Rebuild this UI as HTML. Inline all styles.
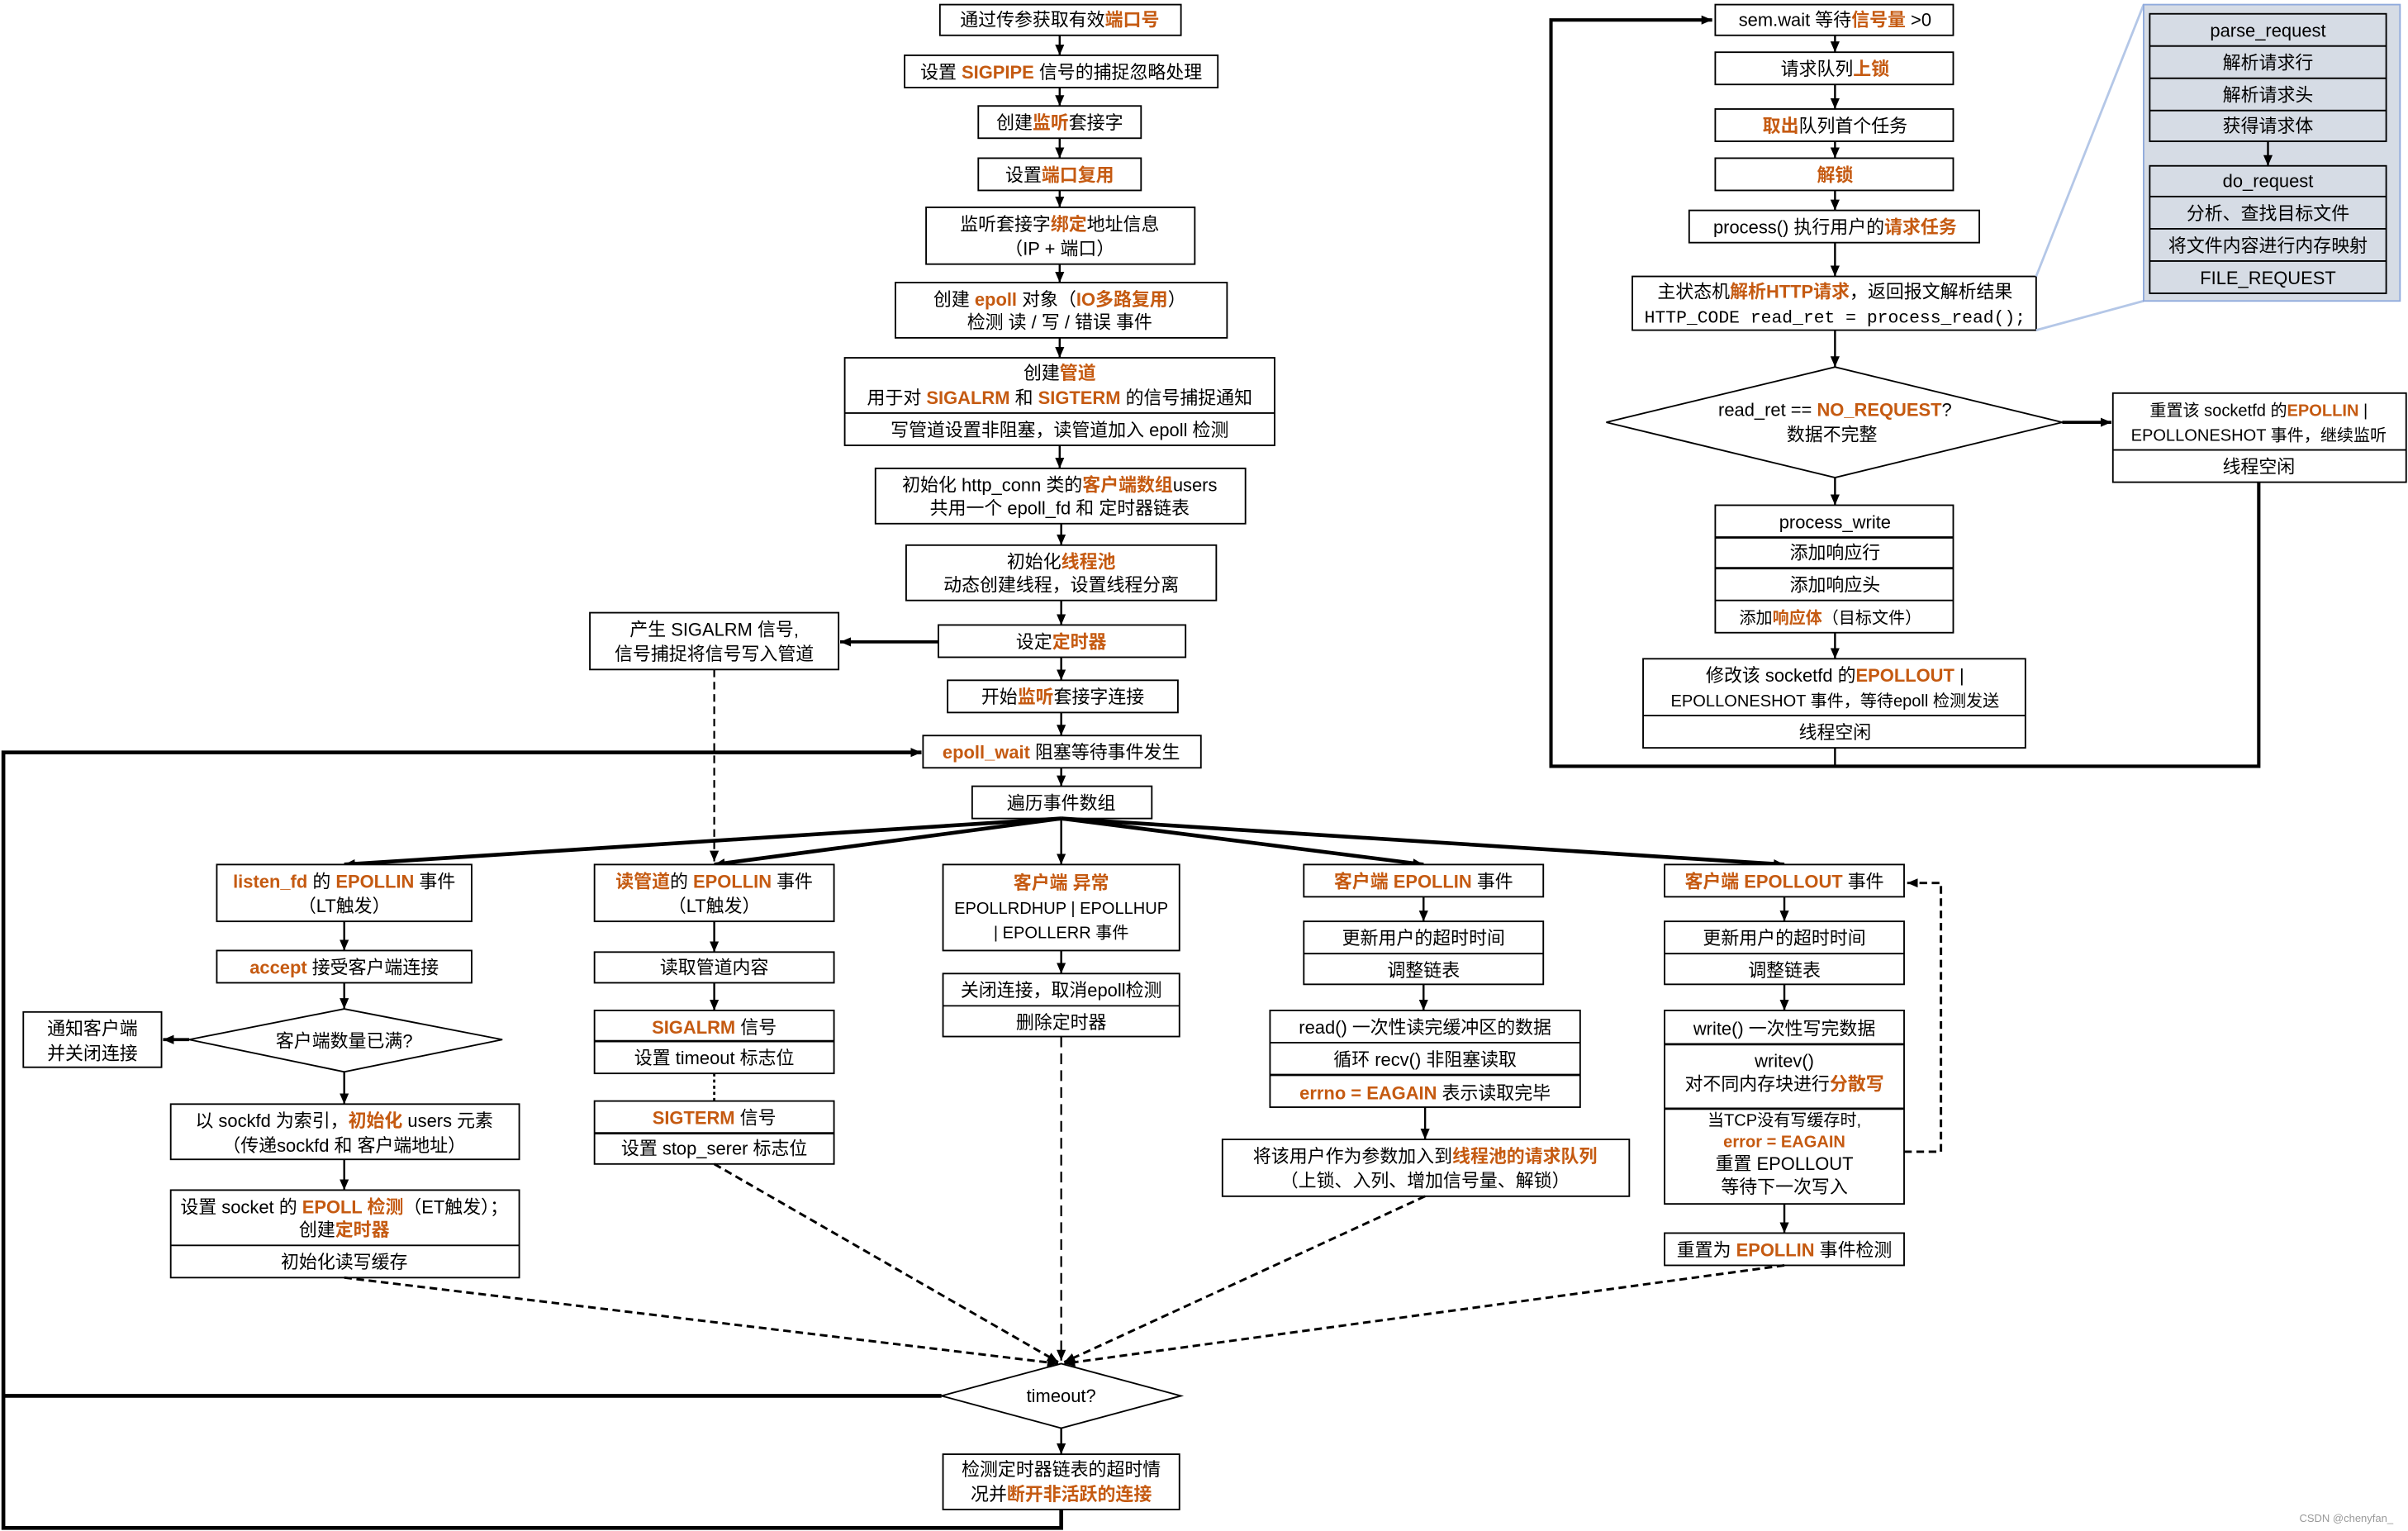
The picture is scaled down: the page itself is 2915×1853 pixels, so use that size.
<!DOCTYPE html>
<html><head><meta charset="utf-8"><style>
html,body{margin:0;padding:0;background:#fff;}
svg{display:block;}
text{font-family:"Liberation Sans","Noto Sans CJK SC",sans-serif;font-size:11.8px;fill:#000;text-anchor:middle;}
.o{fill:#c55a11;font-weight:bold;}
.s{font-size:10.8px;}
.m{font-family:"Liberation Mono","Noto Sans CJK SC",monospace;}
rect{fill:#fff;stroke:#000;stroke-width:1;}
.b rect{fill:#d6dce5;}
line,polyline,path{stroke:#000;fill:none;}
.d{stroke-dasharray:5,3;stroke-width:1.6;}
</style></head><body>
<svg width="2915" height="1853" viewBox="0 0 1568 997" xmlns="http://www.w3.org/2000/svg">
<defs><marker id="a" markerWidth="8" markerHeight="8" refX="7" refY="4" orient="auto" markerUnits="userSpaceOnUse"><path d="M0,1 L7,4 L0,7 z" style="fill:#000;stroke:none"/></marker></defs>

<g>
<rect x="612" y="3" width="157" height="20"/><text x="690" y="17">通过传参获取有效<tspan class="o">端口号</tspan></text>
<rect x="589" y="36" width="204" height="21"/><text x="691" y="51">设置 <tspan class="o">SIGPIPE</tspan> 信号的捕捉忽略处理</text>
<rect x="637" y="69" width="106" height="21"/><text x="690" y="84">创建<tspan class="o">监听</tspan>套接字</text>
<rect x="637" y="103" width="106" height="21"/><text x="690" y="118">设置<tspan class="o">端口复用</tspan></text>
<rect x="603" y="135" width="175" height="37"/><text x="690" y="150">监听套接字<tspan class="o">绑定</tspan>地址信息</text><text x="690" y="166">（IP + 端口）</text>
<rect x="583" y="184" width="216" height="36"/><text x="690" y="199">创建 <tspan class="o">epoll</tspan> 对象（<tspan class="o">IO多路复用</tspan>）</text><text x="690" y="214">检测 读 / 写 / 错误 事件</text>
<rect x="550" y="233" width="280" height="57"/><line x1="550" y1="269" x2="830" y2="269"/>
<text x="690" y="247">创建<tspan class="o">管道</tspan></text><text x="690" y="263">用于对 <tspan class="o">SIGALRM</tspan> 和 <tspan class="o">SIGTERM</tspan> 的信号捕捉通知</text><text x="690" y="284">写管道设置非阻塞，读管道加入 epoll 检测</text>
<rect x="570" y="305" width="241" height="36"/><text x="690" y="320">初始化 http_conn 类的<tspan class="o">客户端数组</tspan>users</text><text x="690" y="335">共用一个 epoll_fd 和 定时器链表</text>
<rect x="590" y="355" width="202" height="36"/><text x="691" y="370">初始化<tspan class="o">线程池</tspan></text><text x="691" y="385">动态创建线程，设置线程分离</text>
<rect x="611" y="407" width="161" height="21"/><text x="691" y="422">设定<tspan class="o">定时器</tspan></text>
<rect x="384" y="399" width="162" height="37"/><text x="465" y="414">产生 SIGALRM 信号,</text><text x="465" y="430">信号捕捉将信号写入管道</text>
<rect x="617" y="443" width="150" height="21"/><text x="692" y="458">开始<tspan class="o">监听</tspan>套接字连接</text>
<rect x="601" y="479" width="181" height="21"/><text x="691" y="494"><tspan class="o">epoll_wait</tspan> 阻塞等待事件发生</text>
<rect x="633" y="512" width="117" height="21"/><text x="691" y="527">遍历事件数组</text>
</g>
<g marker-end="url(#a)" stroke-width="1.3">
<line x1="690" y1="23" x2="690" y2="36"/><line x1="690" y1="57" x2="690" y2="69"/><line x1="690" y1="90" x2="690" y2="103"/>
<line x1="690" y1="124" x2="690" y2="135"/><line x1="690" y1="172" x2="690" y2="184"/><line x1="690" y1="220" x2="690" y2="233"/>
<line x1="690" y1="290" x2="690" y2="305"/><line x1="691" y1="341" x2="691" y2="355"/><line x1="691" y1="391" x2="691" y2="407"/>
<line x1="611" y1="418" x2="547" y2="418" stroke-width="2"/>
<line x1="691" y1="428" x2="691" y2="443"/><line x1="691" y1="464" x2="691" y2="479"/><line x1="691" y1="500" x2="691" y2="512"/>
<line x1="691" y1="533" x2="224" y2="563" stroke-width="2.5"/>
<line x1="691" y1="533" x2="465" y2="563" stroke-width="2.5"/>
<line x1="691" y1="533" x2="691" y2="563"/>
<line x1="691" y1="533" x2="927" y2="563" stroke-width="2.5"/>
<line x1="691" y1="533" x2="1162" y2="563" stroke-width="2.5"/>
</g>
<line class="d" x1="465" y1="436" x2="465" y2="561" marker-end="url(#a)" style="stroke-width:1.2"/>

<polyline points="691,983 691,995 2,995 2,490 600,490" stroke-width="2.5" marker-end="url(#a)"/>
<line x1="613" y1="909" x2="2" y2="909" stroke-width="2.5"/>

<rect x="141" y="563" width="166" height="37"/><text x="224" y="578"><tspan class="o">listen_fd</tspan> 的 <tspan class="o">EPOLLIN</tspan> 事件</text><text x="224" y="594">（LT触发）</text>
<rect x="141" y="619" width="166" height="21"/><text x="224" y="634"><tspan class="o">accept</tspan> 接受客户端连接</text>
<polygon points="123,677 224,657 327,677 224,698" style="fill:#fff;stroke:#000"/><text x="224" y="682">客户端数量已满?</text>
<rect x="15" y="659" width="90" height="36"/><text x="60" y="674">通知客户端</text><text x="60" y="690">并关闭连接</text>
<rect x="111" y="719" width="227" height="36"/><text x="224" y="734">以 sockfd 为索引，<tspan class="o">初始化</tspan> users 元素</text><text x="224" y="750">（传递sockfd 和 客户端地址）</text>
<rect x="111" y="775" width="227" height="57"/><line x1="111" y1="811" x2="338" y2="811"/><text x="224" y="790">设置 socket 的 <tspan class="o">EPOLL 检测</tspan>（ET触发）；</text><text x="224" y="805">创建<tspan class="o">定时器</tspan></text><text x="224" y="826">初始化读写缓存</text>
<g marker-end="url(#a)" stroke-width="1.3">
<line x1="224" y1="600" x2="224" y2="619"/><line x1="224" y1="640" x2="224" y2="657"/><line x1="123" y1="677" x2="106" y2="677" stroke-width="2"/><line x1="224" y1="698" x2="224" y2="719"/><line x1="224" y1="755" x2="224" y2="775"/>
</g>

<rect x="387" y="563" width="156" height="37"/><text x="465" y="578"><tspan class="o">读管道</tspan>的 <tspan class="o">EPOLLIN</tspan> 事件</text><text x="465" y="594">（LT触发）</text>
<rect x="387" y="620" width="156" height="20"/><text x="465" y="634">读取管道内容</text>
<rect x="387" y="658" width="156" height="41"/><line x1="387" y1="678" x2="543" y2="678" stroke-width="1.5"/><text x="465" y="673"><tspan class="o">SIGALRM</tspan> 信号</text><text x="465" y="693">设置 timeout 标志位</text>
<line x1="465" y1="699" x2="465" y2="717" style="stroke-dasharray:2,2;stroke-width:1.5"/>
<rect x="387" y="717" width="156" height="41"/><line x1="387" y1="738" x2="543" y2="738" stroke-width="1.5"/><text x="465" y="732"><tspan class="o">SIGTERM</tspan> 信号</text><text x="465" y="752">设置 stop_serer 标志位</text>
<g marker-end="url(#a)" stroke-width="1.3"><line x1="465" y1="600" x2="465" y2="620"/><line x1="465" y1="640" x2="465" y2="658"/></g>

<rect x="614" y="563" width="154" height="56"/><text x="691" y="579" class="o">客户端 异常</text><text x="691" y="595" class="s">EPOLLRDHUP | EPOLLHUP</text><text x="691" y="611" class="s">| EPOLLERR 事件</text>
<rect x="614" y="634" width="154" height="41"/><line x1="614" y1="655" x2="768" y2="655"/><text x="691" y="649">关闭连接，取消epoll检测</text><text x="691" y="670">删除定时器</text>
<line x1="691" y1="619" x2="691" y2="634" marker-end="url(#a)" stroke-width="1.3"/>

<rect x="849" y="563" width="156" height="21"/><text x="927" y="578"><tspan class="o">客户端 EPOLLIN</tspan> 事件</text>
<rect x="849" y="600" width="156" height="41"/><line x1="849" y1="621" x2="1005" y2="621"/><text x="927" y="615">更新用户的超时时间</text><text x="927" y="636">调整链表</text>
<rect x="827" y="658" width="202" height="63"/><line x1="827" y1="679" x2="1029" y2="679"/><line x1="827" y1="700" x2="1029" y2="700" stroke-width="1.5"/>
<text x="928" y="673">read() 一次性读完缓冲区的数据</text><text x="928" y="694">循环 recv() 非阻塞读取</text><text x="928" y="716"><tspan class="o">errno = EAGAIN</tspan> 表示读取完毕</text>
<rect x="796" y="742" width="265" height="37"/><text x="928" y="757">将该用户作为参数加入到<tspan class="o">线程池的请求队列</tspan></text><text x="928" y="773">（上锁、入列、增加信号量、解锁）</text>
<g marker-end="url(#a)" stroke-width="1.3"><line x1="927" y1="584" x2="927" y2="600"/><line x1="927" y1="641" x2="927" y2="658"/><line x1="928" y1="721" x2="928" y2="742"/></g>

<rect x="1084" y="563" width="156" height="21"/><text x="1162" y="578"><tspan class="o">客户端 EPOLLOUT</tspan> 事件</text>
<rect x="1084" y="600" width="156" height="41"/><line x1="1084" y1="621" x2="1240" y2="621"/><text x="1162" y="615">更新用户的超时时间</text><text x="1162" y="636">调整链表</text>
<rect x="1084" y="658" width="156" height="126"/><line x1="1084" y1="680" x2="1240" y2="680" stroke-width="1.5"/><line x1="1084" y1="722" x2="1240" y2="722" stroke-width="1.5"/>
<text x="1162" y="674">write() 一次性写完数据</text><text x="1162" y="695">writev()</text><text x="1162" y="710">对不同内存块进行<tspan class="o">分散写</tspan></text>
<text x="1162" y="733" class="s">当TCP没有写缓存时,</text><text x="1162" y="747" class="o s">error = EAGAIN</text><text x="1162" y="762">重置 EPOLLOUT</text><text x="1162" y="777">等待下一次写入</text>
<rect x="1084" y="803" width="156" height="21"/><text x="1162" y="818">重置为 <tspan class="o">EPOLLIN</tspan> 事件检测</text>
<g marker-end="url(#a)" stroke-width="1.3"><line x1="1162" y1="584" x2="1162" y2="600"/><line x1="1162" y1="641" x2="1162" y2="658"/><line x1="1162" y1="784" x2="1162" y2="803"/></g>
<polyline class="d" points="1240,750 1264,750 1264,575 1242,575" marker-end="url(#a)"/>

<g class="d" marker-end="url(#a)">
<line x1="224" y1="832" x2="689" y2="888"/>
<line x1="465" y1="758" x2="689" y2="887"/>
<line x1="691" y1="675" x2="691" y2="886" style="stroke-width:1.2;stroke-dasharray:7,4"/>
<line x1="928" y1="779" x2="693" y2="887"/>
<line x1="1162" y1="824" x2="693" y2="888"/>
</g>
<polygon points="613,909 691,888 769,909 691,930" style="fill:#fff;stroke:#000"/><text x="691" y="913">timeout?</text>
<rect x="614" y="947" width="154" height="36"/><text x="691" y="961">检测定时器链表的超时情</text><text x="691" y="977">况并<tspan class="o">断开非活跃的连接</tspan></text>
<line x1="691" y1="930" x2="691" y2="947" marker-end="url(#a)" stroke-width="1.3"/>

<rect x="1117" y="3" width="155" height="20"/><text x="1195" y="17">sem.wait 等待<tspan class="o">信号量</tspan> &gt;0</text>
<rect x="1117" y="34" width="155" height="21"/><text x="1195" y="49">请求队列<tspan class="o">上锁</tspan></text>
<rect x="1117" y="71" width="155" height="21"/><text x="1195" y="86"><tspan class="o">取出</tspan>队列首个任务</text>
<rect x="1117" y="103" width="155" height="21"/><text x="1195" y="118" class="o">解锁</text>
<rect x="1100" y="137" width="189" height="21"/><text x="1195" y="152">process() 执行用户的<tspan class="o">请求任务</tspan></text>
<rect x="1063" y="180" width="263" height="35"/><text x="1195" y="194">主状态机<tspan class="o">解析HTTP请求</tspan>，返回报文解析结果</text><text x="1195" y="210" class="m" style="font-size:11.5px">HTTP_CODE read_ret = process_read();</text>
<polygon points="1046,275 1195,239 1343,275 1195,311" style="fill:#fff;stroke:#000"/><text x="1195" y="271">read_ret == <tspan class="o">NO_REQUEST</tspan>?</text><text x="1193" y="287">数据不完整</text>
<rect x="1376" y="256" width="191" height="58"/><line x1="1376" y1="293" x2="1567" y2="293"/><text x="1471" y="271" class="s">重置该 socketfd 的<tspan class="o">EPOLLIN</tspan> |</text><text x="1471" y="287" class="s">EPOLLONESHOT 事件，继续监听</text><text x="1471" y="308">线程空闲</text>
<rect x="1117" y="329" width="155" height="83"/><line x1="1117" y1="350" x2="1272" y2="350" stroke-width="1.5"/><line x1="1117" y1="370" x2="1272" y2="370" stroke-width="1.5"/><line x1="1117" y1="391" x2="1272" y2="391"/>
<text x="1195" y="344">process_write</text><text x="1195" y="364">添加响应行</text><text x="1195" y="385">添加响应头</text><text x="1192" y="406" class="s">添加<tspan class="o">响应体</tspan>（目标文件）</text>
<rect x="1070" y="429" width="249" height="58"/><line x1="1070" y1="466" x2="1319" y2="466"/><text x="1195" y="444">修改该 socketfd 的<tspan class="o">EPOLLOUT</tspan> |</text><text x="1195" y="460" class="s">EPOLLONESHOT 事件，等待epoll 检测发送</text><text x="1195" y="481">线程空闲</text>
<g marker-end="url(#a)" stroke-width="1.3">
<line x1="1195" y1="23" x2="1195" y2="34"/><line x1="1195" y1="55" x2="1195" y2="71"/><line x1="1195" y1="92" x2="1195" y2="103"/><line x1="1195" y1="124" x2="1195" y2="137"/><line x1="1195" y1="158" x2="1195" y2="180"/><line x1="1195" y1="215" x2="1195" y2="239"/><line x1="1343" y1="275" x2="1375" y2="275" stroke-width="2"/><line x1="1195" y1="311" x2="1195" y2="329"/><line x1="1195" y1="412" x2="1195" y2="429"/>
</g>
<polyline points="1195,487 1195,499" stroke-width="1.3"/>
<polyline points="1471,314 1471,499 1010,499 1010,13 1115,13" stroke-width="2.2" marker-end="url(#a)"/>

<line x1="1326" y1="180" x2="1396" y2="3" style="stroke:#b4c7e7;stroke-width:1.5"/>
<line x1="1326" y1="215" x2="1396" y2="196" style="stroke:#b4c7e7;stroke-width:1.5"/>
<rect x="1396" y="3" width="167" height="193" style="fill:#d6dce5;stroke:#8faadc"/>
<g class="b">
<rect x="1400" y="9" width="154" height="21"/><text x="1477" y="24">parse_request</text>
<rect x="1400" y="30" width="154" height="21"/><text x="1477" y="45">解析请求行</text>
<rect x="1400" y="51" width="154" height="21"/><text x="1477" y="66">解析请求头</text>
<rect x="1400" y="72" width="154" height="20"/><text x="1477" y="86">获得请求体</text>
<rect x="1400" y="108" width="154" height="20"/><text x="1477" y="122">do_request</text>
<rect x="1400" y="128" width="154" height="21"/><text x="1477" y="143">分析、查找目标文件</text>
<rect x="1400" y="149" width="154" height="21"/><text x="1477" y="164">将文件内容进行内存映射</text>
<rect x="1400" y="170" width="154" height="21"/><text x="1477" y="185">FILE_REQUEST</text>
</g>
<line x1="1477" y1="92" x2="1477" y2="108" marker-end="url(#a)" stroke-width="1.3"/>

<text x="1528" y="991" style="font-size:7px;fill:#999">CSDN @chenyfan_</text>
</svg>
</body></html>
